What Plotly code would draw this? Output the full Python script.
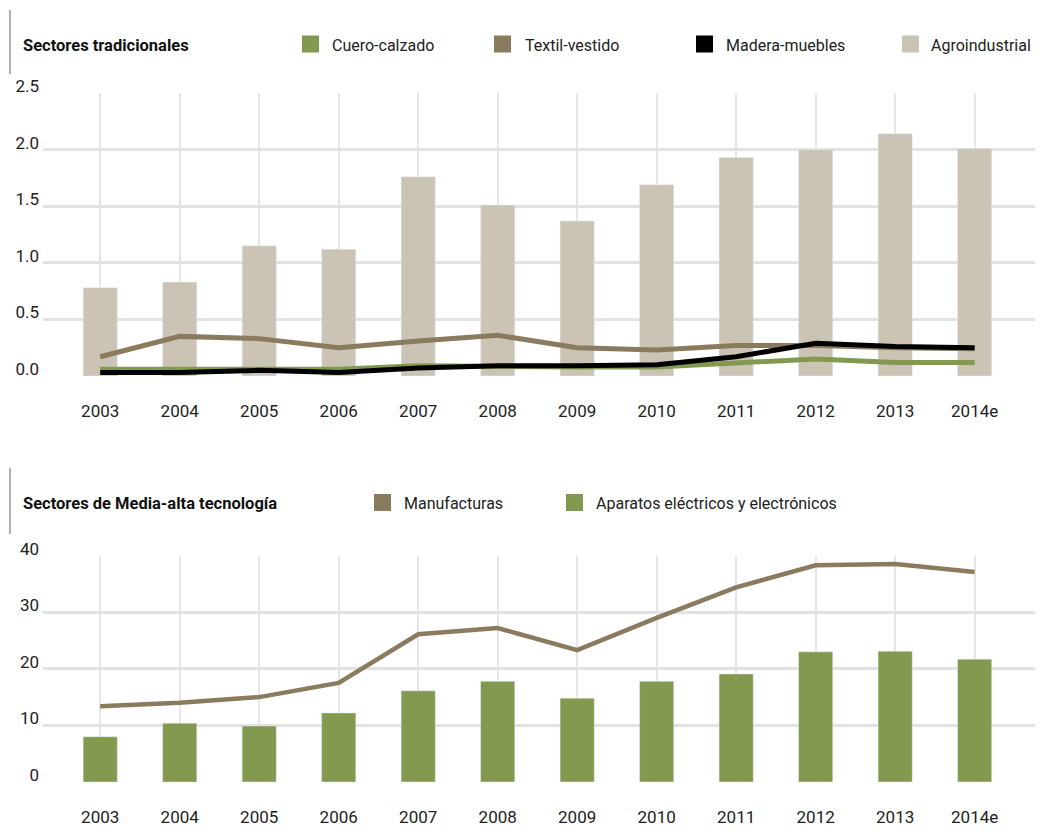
import plotly.graph_objects as go

years = ["2003", "2004", "2005", "2006", "2007", "2008", "2009", "2010", "2011", "2012", "2013", "2014e"]

# Sectores tradicionales
agroindustrial = [0.78, 0.83, 1.15, 1.12, 1.76, 1.51, 1.37, 1.69, 1.93, 2.00, 2.14, 2.01]
textil_vestido = [0.17, 0.35, 0.33, 0.25, 0.31, 0.36, 0.25, 0.23, 0.27, 0.27, 0.25, 0.24]
madera_muebles = [0.03, 0.03, 0.05, 0.03, 0.07, 0.09, 0.09, 0.10, 0.17, 0.29, 0.26, 0.25]
cuero_calzado = [0.06, 0.06, 0.07, 0.06, 0.09, 0.08, 0.08, 0.08, 0.11, 0.15, 0.12, 0.12]

# Sectores de Media-alta tecnologia
aparatos = [8.0, 10.4, 9.9, 12.2, 16.1, 17.8, 14.8, 17.8, 19.1, 23.0, 23.1, 21.7]
manufacturas = [13.4, 14.0, 15.0, 17.5, 26.1, 27.2, 23.3, 29.0, 34.4, 38.3, 38.5, 37.1]

GREEN = "#82994f"
BROWN = "#8a7b5f"
BEIGE = "#cbc4b5"
BLACK = "#000000"
FONT = "Roboto, sans-serif"

# page body has an 8px margin, so the figure is drawn 8px in from the corner
OFF = 8
W, H = 1043 - OFF, 832 - OFF
L = 43 - OFF


def px(x):
    return (x - OFF - L) / (W - L)


def py(y):
    return 1 - (y - OFF) / H


fig = go.Figure()

# top chart
fig.add_trace(go.Bar(x=years, y=agroindustrial, name="Agroindustrial", marker_color=BEIGE,
                     xaxis="x", yaxis="y"))
fig.add_trace(go.Scatter(x=years, y=textil_vestido, mode="lines", name="Textil-vestido",
                         line=dict(color=BROWN, width=5), xaxis="x", yaxis="y"))
fig.add_trace(go.Scatter(x=years, y=cuero_calzado, mode="lines", name="Cuero-calzado",
                         line=dict(color=GREEN, width=5), xaxis="x", yaxis="y"))
fig.add_trace(go.Scatter(x=years, y=madera_muebles, mode="lines", name="Madera-muebles",
                         line=dict(color=BLACK, width=5), xaxis="x", yaxis="y"))

# bottom chart
fig.add_trace(go.Bar(x=years, y=aparatos, name="Aparatos eléctricos y electrónicos", marker_color=GREEN,
                     xaxis="x2", yaxis="y2"))
fig.add_trace(go.Scatter(x=years, y=manufacturas, mode="lines", name="Manufacturas",
                         line=dict(color=BROWN, width=4.5), xaxis="x2", yaxis="y2"))

xax = dict(type="category", categoryorder="array", categoryarray=years, range=[-0.72, 11.86],
           showgrid=True, gridcolor="#e6e6e6", gridwidth=1.5, showline=False, zeroline=False,
           ticks="", ticklabelstandoff=23, automargin=False, tickfont=dict(size=17, color="#222"))
yax = dict(showgrid=True, gridcolor="#e2e2e2", gridwidth=2.5, zeroline=False, showline=False,
           ticks="", ticklabelstandoff=3, ticklabelshift=-7, automargin=False,
           tickfont=dict(size=17, color="#222"))

fig.update_layout(
    width=W, height=H,
    margin=dict(l=L, r=0, t=0, b=0),
    paper_bgcolor="white", plot_bgcolor="white",
    font=dict(family=FONT, size=17, color="#222"),
    barmode="overlay", bargap=0.57,
    showlegend=False,
    xaxis=dict(xax, domain=[0, 1], anchor="y"),
    yaxis=dict(yax, domain=[py(376), py(93)], range=[0, 2.5], dtick=0.5, tickformat=".1f", anchor="x"),
    xaxis2=dict(xax, domain=[0, 1], anchor="y2"),
    yaxis2=dict(yax, domain=[py(782), py(555.6)], range=[0, 40], dtick=10, anchor="x2"),
)

# section titles
for txt, yc in [("Sectores tradicionales", 46), ("Sectores de Media-alta tecnología", 503)]:
    fig.add_annotation(text="<b>" + txt + "</b>", x=px(21), y=py(yc), xref="paper", yref="paper",
                       showarrow=False, xanchor="left", yanchor="middle",
                       font=dict(size=16.5, color="#111"))

# vertical grey accents beside the titles
for y0, y1 in [(10, 74), (468, 534)]:
    fig.add_shape(type="line", xref="paper", yref="paper", x0=px(10), x1=px(10),
                  y0=py(y1), y1=py(y0), line=dict(color="#b0b0b0", width=2))

# legends: square key + label
legend_items = [
    ("Cuero-calzado", GREEN, 302, 330, 44),
    ("Textil-vestido", BROWN, 494, 523, 44),
    ("Madera-muebles", BLACK, 696, 724, 44),
    ("Agroindustrial", BEIGE, 902, 929, 44),
    ("Manufacturas", BROWN, 374, 402, 502.5),
    ("Aparatos eléctricos y electrónicos", GREEN, 566, 594, 502.5),
]
for name, col, sx, tx, yc in legend_items:
    fig.add_shape(type="rect", xref="paper", yref="paper", x0=px(sx), x1=px(sx + 17),
                  y0=py(yc + 8.5), y1=py(yc - 8.5), fillcolor=col, line=dict(width=0))
    fig.add_annotation(text=name, x=px(tx), y=py(yc + 1), xref="paper", yref="paper",
                       showarrow=False, xanchor="left", yanchor="middle",
                       font=dict(size=16, color="#222"))

fig.write_html("out.html")
